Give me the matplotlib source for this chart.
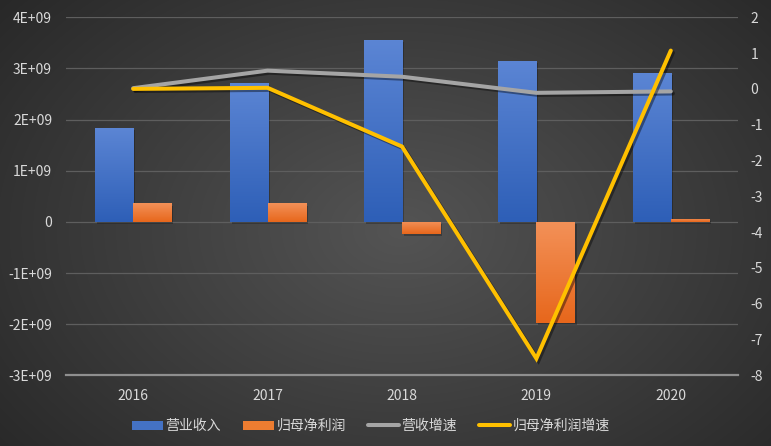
import numpy as np
import matplotlib
matplotlib.use("Agg")
from matplotlib import pyplot as plt
from matplotlib.lines import Line2D
from matplotlib.patches import Patch
import matplotlib.patheffects as pe

plt.rcParams['font.family'] = ['Noto Sans CJK SC', 'DejaVu Sans']
plt.rcParams['axes.unicode_minus'] = False

years = ['2016', '2017', '2018', '2019', '2020']
revenue = [1.83e9, 2.71e9, 3.55e9, 3.15e9, 2.91e9]
net_profit = [0.36e9, 0.36e9, -0.24e9, -1.98e9, 0.065e9]
revenue_growth = [0.02, 0.51, 0.34, -0.11, -0.07]
profit_growth = [0.0, 0.03, -1.61, -7.53, 1.07]

left_ticks = [-3e9, -2e9, -1e9, 0, 1e9, 2e9, 3e9, 4e9]
left_labels = ['-3E+09', '-2E+09', '-1E+09', '0', '1E+09', '2E+09', '3E+09', '4E+09']
right_ticks = list(range(-8, 3))

txt = '#d9d9d9'

fig = plt.figure(figsize=(7.71, 4.46), dpi=100)

# radial gradient background
bg = fig.add_axes([0, 0, 1, 1], zorder=-10)
yy, xx = np.mgrid[0:446, 0:771]
r = np.sqrt(((xx - 400) / 430.0) ** 2 + ((yy - 230) / 300.0) ** 2)
r = np.clip(r / 1.35, 0, 1)
c0, c1 = 0x54, 0x23
gray = (c0 + (c1 - c0) * r) / 255.0
bg.imshow(np.dstack([gray, gray, gray]), aspect='auto', extent=[0, 1, 0, 1])
bg.axis('off')

ax = fig.add_axes([66 / 771, 1 - 375.3 / 446, 672 / 771, 358 / 446])
ax.patch.set_visible(False)
x = np.arange(len(years))
w = 0.283

shadow = [pe.SimplePatchShadow(offset=(1.5, -1.5), alpha=0.25, shadow_rgbFace='black'), pe.Normal()]
b1 = ax.bar(x - w / 2, revenue, w, color='#4472c4', zorder=3, path_effects=shadow)
b2 = ax.bar(x + w / 2, net_profit, w, color='#ed7d31', zorder=3, path_effects=shadow)


def grad_fill(bars, top, bottom):
    g = np.linspace(0, 1, 64)[:, None]
    t = np.array(matplotlib.colors.to_rgb(top))
    b = np.array(matplotlib.colors.to_rgb(bottom))
    img = (t[None, None, :] * (1 - g[:, :, None]) + b[None, None, :] * g[:, :, None])
    for bar in bars:
        x0 = bar.get_x()
        x1 = x0 + bar.get_width()
        y0 = bar.get_y()
        y1 = y0 + bar.get_height()
        im = ax.imshow(img, aspect='auto', extent=[x0, x1, min(y0, y1), max(y0, y1)],
                       origin='upper', zorder=4)
        im.set_clip_path(bar)


grad_fill(b1, '#5b85d4', '#2e5fb7')
grad_fill(b2, '#f39158', '#e7671c')

ax.set_xlim(-0.5, 4.5)
ax.set_ylim(-3e9, 4e9)
ax.set_yticks(left_ticks)
ax.set_yticklabels(left_labels)
ax.set_xticks(x)
ax.set_xticklabels(years)
for v in left_ticks[1:]:
    ax.axhline(v, color='#5e5e5e', lw=0.9, zorder=1)
for s in ['top', 'right', 'left']:
    ax.spines[s].set_visible(False)
ax.spines['bottom'].set_color('#8f8f8f')
ax.spines['bottom'].set_linewidth(1.6)
ax.spines['bottom'].set_zorder(2)
ax.tick_params(axis='y', length=0, pad=10, labelsize=10, colors=txt)
ax.tick_params(axis='x', length=0, pad=10, labelsize=10, colors=txt)

ax2 = ax.twinx()
ax2.set_ylim(-8, 2)
ax2.set_yticks(right_ticks)
ax2.set_yticklabels([str(v) for v in right_ticks])
ax2.set_xlim(-0.5, 4.5)
for s in ax2.spines.values():
    s.set_visible(False)
ax2.tick_params(axis='y', length=0, pad=9, labelsize=10, colors=txt)

lshadow = [pe.SimpleLineShadow(offset=(1.5, -1.5), alpha=0.4, shadow_color='black'), pe.Normal()]
ax2.plot(x, revenue_growth, color='#a5a5a5', lw=2.9, solid_capstyle='round',
         solid_joinstyle='miter', path_effects=lshadow, zorder=5)
ax2.plot(x, profit_growth, color='#ffc000', lw=2.9, solid_capstyle='round',
         solid_joinstyle='miter', path_effects=lshadow, zorder=6)

handles = [
    Patch(facecolor='#4472c4', edgecolor='none'),
    Patch(facecolor='#ed7d31', edgecolor='none'),
    Line2D([0], [0], color='#a5a5a5', lw=2.9, solid_capstyle='round'),
    Line2D([0], [0], color='#ffc000', lw=2.9, solid_capstyle='round'),
]
labels = ['营业收入', '归母净利润', '营收增速', '归母净利润增速']
leg = fig.legend(handles, labels, loc='center', bbox_to_anchor=(371 / 771, 1 - 426 / 446),
                 ncol=4, frameon=False, fontsize=10, handlelength=2.2, handleheight=0.6,
                 handletextpad=0.2, columnspacing=1.6, labelcolor=txt)

fig.savefig('out.png', dpi=100)
